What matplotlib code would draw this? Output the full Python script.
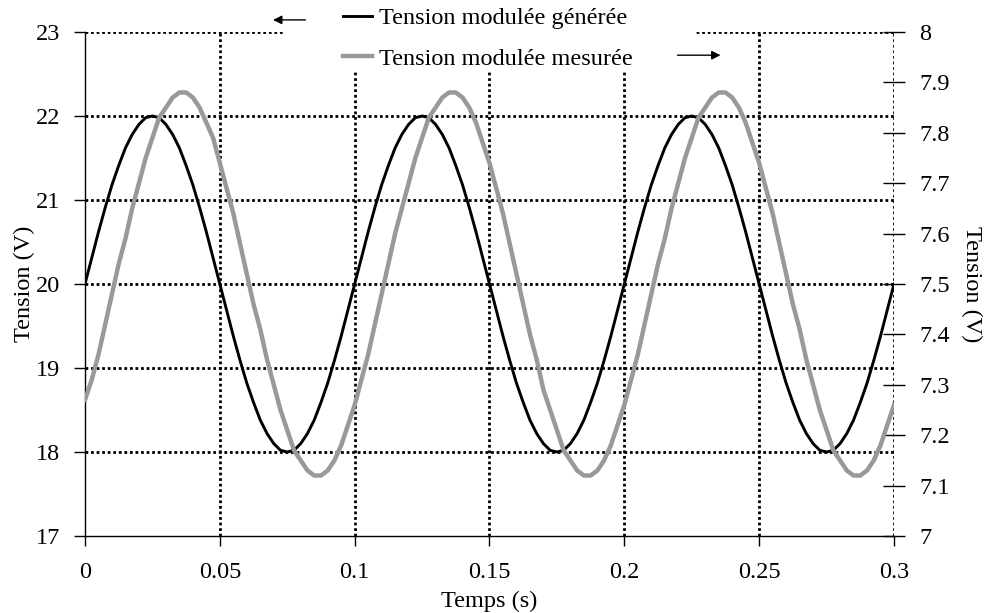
import matplotlib
matplotlib.use('Agg')
import matplotlib.pyplot as plt
from matplotlib.patches import Rectangle

# time axis (s), one sample every 2.5 ms
temps = [round(0.0025 * i, 4) for i in range(121)]

# generated modulated voltage (V), left axis
tension_generee = [
    20.00, 20.31, 20.62, 20.91, 21.18, 21.41, 21.62, 21.78, 21.90, 21.98,
    22.00, 21.98, 21.90, 21.78, 21.62, 21.41, 21.18, 20.91, 20.62, 20.31,
    20.00, 19.69, 19.38, 19.09, 18.82, 18.59, 18.38, 18.22, 18.10, 18.02,
    18.00, 18.02, 18.10, 18.22, 18.38, 18.59, 18.82, 19.09, 19.38, 19.69,
    20.00, 20.31, 20.62, 20.91, 21.18, 21.41, 21.62, 21.78, 21.90, 21.98,
    22.00, 21.98, 21.90, 21.78, 21.62, 21.41, 21.18, 20.91, 20.62, 20.31,
    20.00, 19.69, 19.38, 19.09, 18.82, 18.59, 18.38, 18.22, 18.10, 18.02,
    18.00, 18.02, 18.10, 18.22, 18.38, 18.59, 18.82, 19.09, 19.38, 19.69,
    20.00, 20.31, 20.62, 20.91, 21.18, 21.41, 21.62, 21.78, 21.90, 21.98,
    22.00, 21.98, 21.90, 21.78, 21.62, 21.41, 21.18, 20.91, 20.62, 20.31,
    20.00, 19.69, 19.38, 19.09, 18.82, 18.59, 18.38, 18.22, 18.10, 18.02,
    18.00, 18.02, 18.10, 18.22, 18.38, 18.59, 18.82, 19.09, 19.38, 19.69,
    20.00,
]

# measured modulated voltage (V), right axis
tension_mesuree = [
    7.27, 7.31, 7.36, 7.42, 7.48, 7.54, 7.59, 7.65, 7.70, 7.75,
    7.79, 7.83, 7.85, 7.87, 7.88, 7.88, 7.87, 7.85, 7.82, 7.79,
    7.74, 7.69, 7.64, 7.58, 7.52, 7.46, 7.41, 7.35, 7.30, 7.25,
    7.21, 7.17, 7.15, 7.13, 7.12, 7.12, 7.13, 7.15, 7.18, 7.22,
    7.26, 7.31, 7.36, 7.42, 7.48, 7.54, 7.60, 7.65, 7.70, 7.75,
    7.79, 7.83, 7.85, 7.87, 7.88, 7.88, 7.87, 7.85, 7.82, 7.78,
    7.74, 7.69, 7.64, 7.58, 7.52, 7.46, 7.40, 7.35, 7.29, 7.25,
    7.21, 7.17, 7.15, 7.13, 7.12, 7.12, 7.13, 7.15, 7.18, 7.22,
    7.26, 7.31, 7.36, 7.42, 7.48, 7.54, 7.59, 7.65, 7.70, 7.75,
    7.79, 7.83, 7.85, 7.87, 7.88, 7.88, 7.87, 7.85, 7.82, 7.78,
    7.74, 7.69, 7.64, 7.58, 7.52, 7.46, 7.41, 7.35, 7.30, 7.25,
    7.21, 7.17, 7.15, 7.13, 7.12, 7.12, 7.13, 7.15, 7.18, 7.22,
    7.26,
]

x_ticks = [0, 0.05, 0.1, 0.15, 0.2, 0.25, 0.3]
x_labels = ['0', '0.05', '0.1', '0.15', '0.2', '0.25', '0.3']
y_left_ticks = [17, 18, 19, 20, 21, 22, 23]
y_right_ticks = [7, 7.1, 7.2, 7.3, 7.4, 7.5, 7.6, 7.7, 7.8, 7.9, 8]
y_right_labels = ['7', '7.1', '7.2', '7.3', '7.4', '7.5', '7.6', '7.7', '7.8', '7.9', '8']

plt.rcParams['font.family'] = ['Liberation Serif', 'DejaVu Serif']
plt.rcParams['font.size'] = 17.5

fig = plt.figure(figsize=(9.87, 6.13), dpi=100)
ax = fig.add_axes([85 / 987, 1 - 536 / 613, 809 / 987, 504 / 613])
ax2 = ax.twinx()

dots = (0, (1, 1))
for v in x_ticks[1:]:
    ax.axvline(v, color='black', lw=2, linestyle=dots, zorder=1)
for v in y_left_ticks[1:]:
    ax.axhline(v, color='black', lw=2, linestyle=dots, zorder=1)

l1, = ax.plot(temps, tension_generee, color='black', lw=2.1, zorder=3,
              label='Tension modulée générée')
l2, = ax2.plot(temps, tension_mesuree, color='#999999', lw=3.2, zorder=3,
               label='Tension modulée mesurée')

ax.set_xlim(0, 0.3)
ax.set_ylim(17, 23)
ax2.set_ylim(7, 8)
ax.set_xticks(x_ticks)
ax.set_xticklabels(x_labels)
ax.set_yticks(y_left_ticks)
ax2.set_yticks(y_right_ticks)
ax2.set_yticklabels(y_right_labels)

for a in (ax, ax2):
    a.spines['top'].set_visible(False)
    a.spines['right'].set_visible(False)
ax2.spines['left'].set_visible(False)
ax2.spines['bottom'].set_visible(False)
ax.spines['left'].set_linewidth(1.0)
ax.spines['bottom'].set_linewidth(1.0)

ax.tick_params(axis='y', direction='out', length=8, width=1, pad=10)
ax.tick_params(axis='x', direction='out', length=7, width=1, pad=12)
ax2.tick_params(axis='y', direction='inout', length=16, width=1, pad=10)

ax.set_xlabel('Temps (s)')
ax.xaxis.set_label_coords(0.5, -0.108)
ax.set_ylabel('Tension (V)', va='bottom')
ax.yaxis.set_label_coords(-0.062, 0.5)
ax2.set_ylabel('Tension (V)', rotation=270, va='bottom')
ax2.yaxis.set_label_coords(1.083, 0.5)

# white box behind the legend, hiding the top grid line
ax2.add_patch(Rectangle((0.247, 0.925), 0.507, 0.13, transform=ax2.transAxes,
                        facecolor='white', edgecolor='none', clip_on=False, zorder=4))

leg = ax2.legend(handles=[l1, l2], loc='center', bbox_to_anchor=(0.498, 0.987),
                 frameon=False, handlelength=1.2, handletextpad=0.3,
                 labelspacing=0.75, borderpad=0)
leg.set_zorder(5)

ax2.annotate('', xy=(0.229, 1.024), xytext=(0.276, 1.024), xycoords='axes fraction',
             arrowprops=dict(arrowstyle='-|>', color='black', lw=1, mutation_scale=13),
             annotation_clip=False, zorder=6)
ax2.annotate('', xy=(0.789, 0.954), xytext=(0.729, 0.954), xycoords='axes fraction',
             arrowprops=dict(arrowstyle='-|>', color='black', lw=1, mutation_scale=13),
             annotation_clip=False, zorder=6)

fig.savefig('out.png', dpi=100)
